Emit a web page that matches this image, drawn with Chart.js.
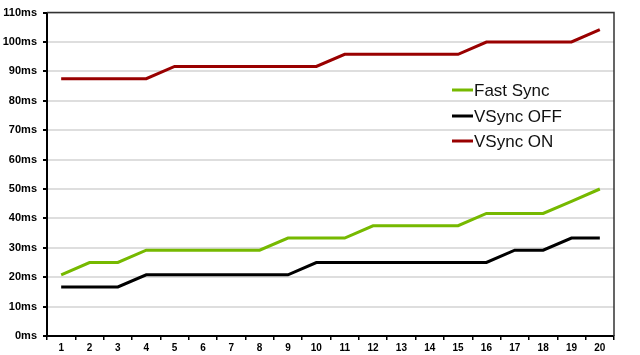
<!DOCTYPE html>
<html>
<head>
<meta charset="utf-8">
<script src="https://cdn.jsdelivr.net/npm/chart.js@4"></script>
<style>
  html, body { margin: 0; padding: 0; background: #fff; }
  #wrap { width: 640px; height: 355px; }
</style>
</head>
<body>
<div id="wrap"><canvas id="latencyChart" width="640" height="355"></canvas></div>
<script>
// frame numbers along the x axis
const frames = ["1","2","3","4","5","6","7","8","9","10","11","12","13","14","15","16","17","18","19","20"];

// latency per frame (ms), steps of ~4.17ms
const fastSync = [20.8, 25, 25, 29.2, 29.2, 29.2, 29.2, 29.2, 33.3, 33.3, 33.3, 37.5, 37.5, 37.5, 37.5, 41.7, 41.7, 41.7, 45.8, 50];
const vsyncOff = [16.7, 16.7, 16.7, 20.8, 20.8, 20.8, 20.8, 20.8, 20.8, 25, 25, 25, 25, 25, 25, 25, 29.2, 29.2, 33.3, 33.3];
const vsyncOn  = [87.5, 87.5, 87.5, 87.5, 91.7, 91.7, 91.7, 91.7, 91.7, 91.7, 95.8, 95.8, 95.8, 95.8, 95.8, 100, 100, 100, 100, 104.2];

const seriesNames = ["Fast Sync", "VSync OFF", "VSync ON"];

// top + right frame of the plot box
const frameBox = {
    id: "frameBox",
    afterDraw(chart) {
        const { ctx, chartArea: a } = chart;
        ctx.save();
        ctx.strokeStyle = "#333";
        ctx.lineWidth = 1.5;
        ctx.beginPath();
        ctx.moveTo(a.left, a.top);
        ctx.lineTo(a.right, a.top);
        ctx.lineTo(a.right, a.bottom);
        ctx.stroke();
        ctx.restore();
    }
};

// legend sitting inside the plot area
const innerLegend = {
    id: "innerLegend",
    afterDraw(chart) {
        const ctx = chart.ctx;
        const x0 = 452, rowY = [90, 116, 141];
        ctx.save();
        ctx.font = "17px 'Liberation Sans', Arial, sans-serif";
        ctx.textBaseline = "middle";
        chart.data.datasets.forEach((ds, i) => {
            ctx.strokeStyle = ds.borderColor;
            ctx.lineWidth = 3;
            ctx.beginPath();
            ctx.moveTo(x0, rowY[i]);
            ctx.lineTo(x0 + 21, rowY[i]);
            ctx.stroke();
            ctx.fillStyle = "#111";
            ctx.fillText(ds.label, x0 + 22, rowY[i] + 1);
        });
        ctx.restore();
    }
};

const ctx = document.getElementById("latencyChart").getContext("2d");
new Chart(ctx, {
    type: "line",
    data: {
        labels: frames,
        datasets: [
            { label: seriesNames[0], data: fastSync, borderColor: "#76b900" },
            { label: seriesNames[1], data: vsyncOff, borderColor: "#000000" },
            { label: seriesNames[2], data: vsyncOn,  borderColor: "#990000" }
        ].map(d => Object.assign(d, { borderWidth: 3, pointRadius: 0, tension: 0, fill: false }))
    },
    options: {
        responsive: false,
        animation: false,
        layout: { padding: { top: 8, right: 26, left: 0, bottom: 0 } },
        plugins: {
            legend: { display: false },
            tooltip: { enabled: false }
        },
        scales: {
            x: {
                offset: true,
                afterFit: (s) => { s.height = 19; },
                grid: { offset: true, drawOnChartArea: false, drawTicks: true, tickLength: 4, tickColor: "#000", lineWidth: 1.5 },
                border: { color: "#000", width: 2 },
                ticks: {
                    color: "#000",
                    padding: 2,
                    maxRotation: 0,
                    autoSkip: false,
                    font: { family: "'Liberation Sans', Arial, sans-serif", size: 10, weight: "bold" }
                }
            },
            y: {
                min: 0,
                max: 110,
                afterFit: (s) => { s.width = 47; },
                grid: { color: "#dedede", lineWidth: 2, tickLength: 4, tickColor: "#000" },
                border: { color: "#000", width: 2 },
                ticks: {
                    stepSize: 10,
                    color: "#000",
                    padding: 6,
                    font: { family: "'Liberation Sans', Arial, sans-serif", size: 11, weight: "bold" },
                    callback: (v) => v + "ms"
                }
            }
        }
    },
    plugins: [frameBox, innerLegend]
});
</script>
</body>
</html>
